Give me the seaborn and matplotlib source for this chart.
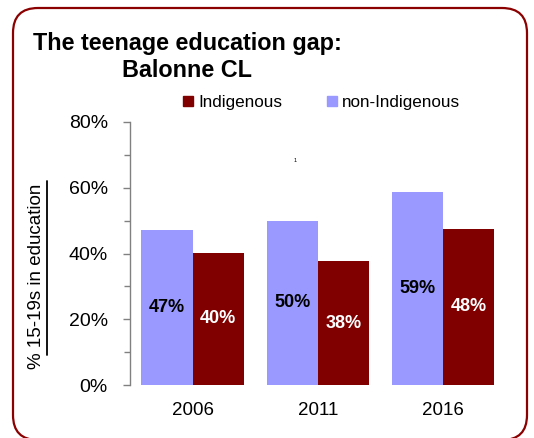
import matplotlib
matplotlib.use('Agg')
import matplotlib.pyplot as plt
import seaborn as sns
import pandas as pd
from matplotlib.patches import FancyBboxPatch
from matplotlib.lines import Line2D
from matplotlib.transforms import IdentityTransform
from matplotlib.ticker import MultipleLocator, PercentFormatter

# ---- data ----
years = ['2006', '2011', '2016']
non_indigenous = [47.1, 49.9, 58.6]
indigenous = [40.2, 37.7, 47.6]
groups = ['non-Indigenous', 'Indigenous']
legend_order = ['Indigenous', 'non-Indigenous']
title_lines = ['The teenage education gap:', 'Balonne CL']
ylabel = '% 15-19s in education'
footnote_mark = '1'

colors = {'non-Indigenous': '#9999FF', 'Indigenous': '#800000'}
label_colors = {'non-Indigenous': 'black', 'Indigenous': 'white'}

df = pd.DataFrame({
    'year': years * 2,
    'group': ['non-Indigenous'] * len(years) + ['Indigenous'] * len(years),
    'value': non_indigenous + indigenous,
})

sns.set_theme(style='white')
plt.rcParams['font.family'] = ['Liberation Sans', 'DejaVu Sans']
plt.rcParams['text.color'] = 'black'

W, H = 534, 438
fig = plt.figure(figsize=(W / 100, H / 100), dpi=100)
ax = fig.add_axes([130 / W, 1 - 385 / H, (505.75 - 130) / W, (385 - 122) / H])

sns.barplot(data=df, x='year', y='value', hue='group', hue_order=groups,
            palette=colors, width=0.82, gap=0, saturation=1, linewidth=0,
            legend=False, ax=ax)

for cont, g in zip(ax.containers, groups):
    vals = df.loc[df['group'] == g, 'value'].tolist()
    ax.bar_label(cont, labels=[f'{round(v)}%' for v in vals], label_type='center',
                 color=label_colors[g], fontsize=13, fontweight='bold')

ax.set_ylim(0, 80)
ax.set_xlim(-0.5, 2.5)
ax.yaxis.set_major_locator(MultipleLocator(20))
ax.yaxis.set_minor_locator(MultipleLocator(10))
ax.yaxis.set_major_formatter(PercentFormatter(decimals=0))
ax.set_xlabel('')
ax.set_ylabel('')
for s in ['top', 'right', 'bottom']:
    ax.spines[s].set_visible(False)
ax.spines['left'].set_color('#808080')
ax.spines['left'].set_linewidth(1)
ax.tick_params(axis='y', which='major', direction='out', length=5, width=1,
               color='#808080', labelsize=14, labelcolor='black', pad=11, left=True)
ax.tick_params(axis='y', which='minor', direction='out', length=4.5, width=1,
               color='#808080', left=True)
ax.tick_params(axis='x', length=0, labelsize=13.5, labelcolor='black', pad=12)

# title
fig.text(187 / W, 1 - 50 / H, title_lines[0], ha='center', va='baseline',
         fontsize=16.8, fontweight='bold')
fig.text(187 / W, 1 - 77 / H, title_lines[1], ha='center', va='baseline',
         fontsize=16.8, fontweight='bold')

# y label with underline
fig.text(37 / W, 1 - 276 / H, ylabel, rotation=90, ha='center', va='center',
         fontsize=13.5)
fig.add_artist(Line2D([47 / W, 47 / W], [1 - 181 / H, 1 - 355 / H],
                      transform=fig.transFigure, color='black', linewidth=1.3))

# tiny footnote mark
fig.text(295 / W, 1 - 161 / H, footnote_mark, ha='center', va='center', fontsize=4)

# legend
handles = [Line2D([], [], marker='s', linestyle='none', markersize=7.5,
                  color=colors[g]) for g in legend_order]
fig.legend(handles, legend_order, loc='center left',
           bbox_to_anchor=(182 / W, 1 - 102 / H), ncol=2, frameon=False,
           borderpad=0, borderaxespad=0, handlelength=0.75, handletextpad=0.2,
           columnspacing=2.55, prop={'family': 'Liberation Sans', 'size': 12.3})

# rounded border
fig.add_artist(FancyBboxPatch((13, -2), 514, 432,
                              boxstyle='round,pad=0,rounding_size=25',
                              transform=IdentityTransform(), fill=False,
                              edgecolor='#8B0000', linewidth=1.6))

fig.savefig('out.png', dpi=100)
